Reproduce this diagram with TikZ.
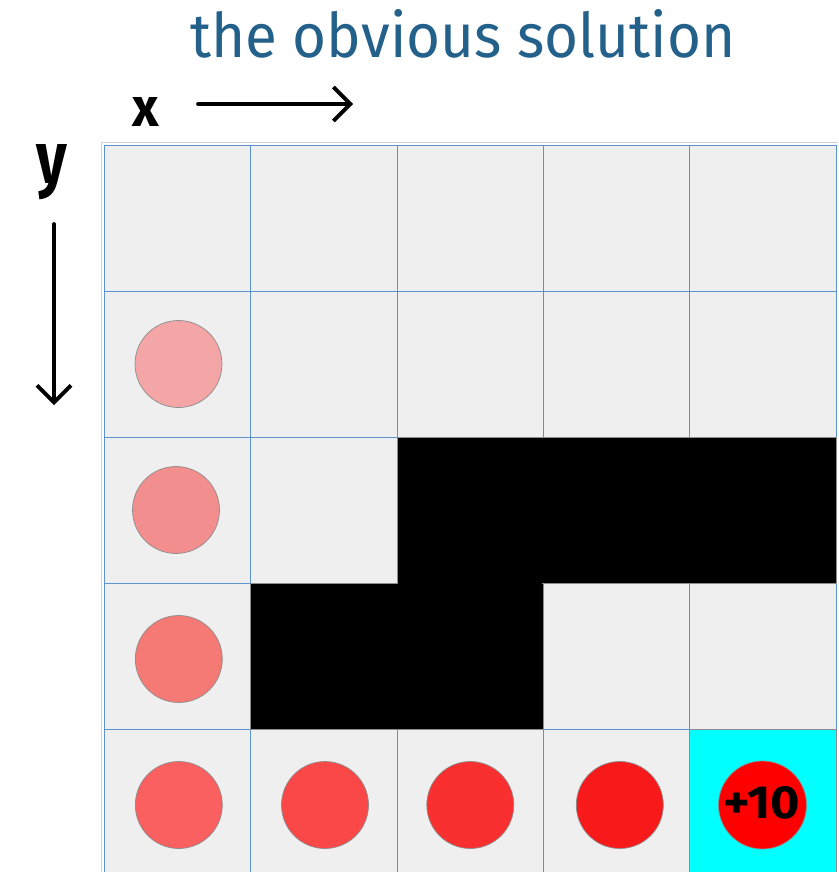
\documentclass[tikz,border=0pt]{standalone}
\usepackage{fontspec}
\setmainfont{Fira Sans}
\usetikzlibrary{arrows.meta}
\definecolor{cellbg}{HTML}{EFEFEF}
\definecolor{gridline}{HTML}{5B93CF}
\definecolor{titleblue}{RGB}{35,96,138}
\definecolor{goalcyan}{HTML}{00FFFF}
\definecolor{cA}{HTML}{F4A6A6}
\definecolor{cB}{HTML}{F38E8E}
\definecolor{cC}{HTML}{F57A75}
\definecolor{cD}{HTML}{FA6060}
\definecolor{cE}{HTML}{FA4848}
\definecolor{cF}{HTML}{FA3030}
\definecolor{cG}{HTML}{F81A1A}
\definecolor{cH}{HTML}{FF0000}
\tikzset{
  cellfill/.style={fill=cellbg},
  gridstroke/.style={draw=gridline, line width=1pt},
  wall/.style={fill=black, draw=black!45, line width=0.8pt},
  goal/.style={fill=goalcyan, draw=black!45, line width=0.8pt},
  dot/.style={circle, minimum size=87pt, inner sep=0pt, draw=black!45, line width=0.7pt},
  axisarrow/.style={line width=3.8pt, line cap=round, -{Straight Barb[length=17pt,width=34pt,line width=3.8pt]}},
  hand/.style={text=black, inner sep=0pt},
}
\begin{document}
\begin{tikzpicture}[x=1pt,y=-1pt]
\useasboundingbox (0,0) rectangle (838,872);
\clip (0,0) rectangle (838,872);
\fill[white] (0,0) rectangle (838,872);
% outer light border
\draw[black!18, line width=1pt] (101,142) rectangle (839,880);
% grid
\fill[cellfill] (104.5,145) rectangle (836,875);
\foreach \c in {0,...,5}{
  \draw[gridstroke] ({104.5+146.3*\c},145) -- ({104.5+146.3*\c},875);
}
\foreach \r in {0,...,5}{
  \draw[gridstroke] (104.5,{145+146*\r}) -- (836,{145+146*\r});
}
% walls
\draw[wall] (397.1,437) rectangle (836,583);
\draw[wall] (250.8,583) rectangle (543.4,729);
\fill[black] (398,584.5) rectangle (542,582);
% goal
\draw[goal] (689.7,729) rectangle (836.5,880);
% title
\node[text=titleblue, inner sep=0pt, anchor=south west] (title) at (190,58)
  {\resizebox{545pt}{48pt}{the obvious solution}};
% axes
\node[hand] (xlab) at (146.5,112) {\resizebox{27pt}{29pt}{\textbf{x}}};
\coordinate (xa1) at (198,104);
\coordinate (xa2) at (353,104);
\draw[axisarrow] (xa1) -- (xa2);
\node[hand] (ylab) at (52.5,172.5) {\resizebox{31pt}{39pt}{\textbf{y}}};
\coordinate (ya1) at (54,224);
\coordinate (ya2) at (54,405);
\draw[axisarrow] (ya1) -- (ya2);
% path dots
\node[dot, fill=cA] (d1) at (178.5,364) {};
\node[dot, fill=cB] (d2) at (176,510) {};
\node[dot, fill=cC] (d3) at (178.8,659) {};
\node[dot, fill=cD] (d4) at (178.8,805) {};
\node[dot, fill=cE] (d5) at (325,805) {};
\node[dot, fill=cF] (d6) at (470.3,805) {};
\node[dot, fill=cG] (d7) at (619.8,805) {};
\node[dot, fill=cH, minimum size=88pt] (d8) at (762.5,805) {};
\node[inner sep=0pt] (reward) at (762,803) {\resizebox{76pt}{32pt}{\textbf{+10}}};
\end{tikzpicture}
\end{document}
